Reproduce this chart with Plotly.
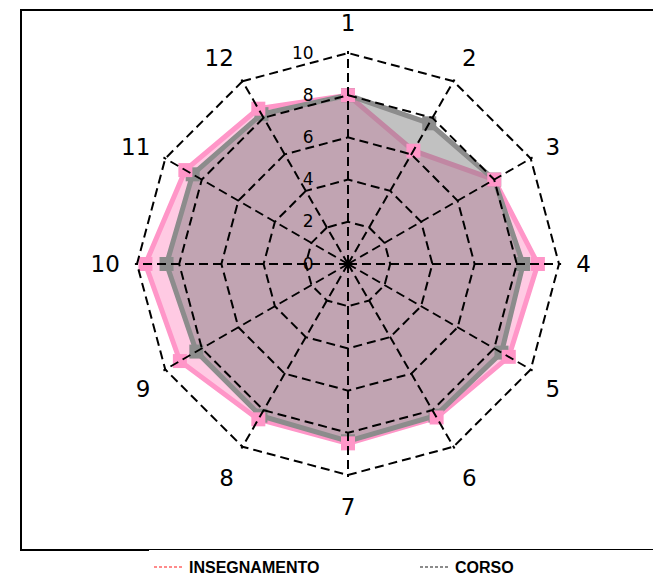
import plotly.graph_objects as go

categories = ["1", "2", "3", "4", "5", "6", "7", "8", "9", "10", "11", "12"]
insegnamento = [8.0, 6.2, 8.0, 9.0, 8.8, 8.4, 8.5, 8.5, 9.2, 9.6, 8.9, 8.5]
corso = [8.0, 7.7, 8.0, 8.3, 8.4, 8.3, 8.4, 8.3, 8.3, 8.6, 8.5, 8.2]
radial_ticks = [0, 2, 4, 6, 8, 10]

PINK = "#FF96C8"
GRAY = "#8C8C8C"
RMAX = 10.1

def closed(v):
    return v + v[:1]

theta = closed(categories)

fig = go.Figure()
fig.add_trace(go.Scatterpolar(
    r=closed(insegnamento), theta=theta, mode="lines", fill="toself",
    fillcolor="rgba(255,150,200,0.5)", line=dict(color=PINK, width=5),
    showlegend=False, hoverinfo="skip"))
fig.add_trace(go.Scatterpolar(
    r=closed(corso), theta=theta, mode="lines+markers", fill="toself",
    fillcolor="rgba(118,118,118,0.45)", line=dict(color=GRAY, width=5),
    marker=dict(symbol="square", size=14, color=GRAY),
    showlegend=False, hoverinfo="skip"))
fig.add_trace(go.Scatterpolar(
    r=insegnamento, theta=categories, mode="markers",
    marker=dict(symbol="square", size=14, color=PINK),
    showlegend=False))
# overlay subplot that carries the grid on top of the fills
fig.add_trace(go.Scatterpolar(r=[None] * len(categories), theta=categories, mode="markers",
                              subplot="polar2", showlegend=False, hoverinfo="skip"))
# legend entries
fig.add_trace(go.Scatterpolar(r=[None], theta=[None], mode="lines", name="INSEGNAMENTO",
                              line=dict(color="#FF6666", width=1.5, dash="3px,2px")))
fig.add_trace(go.Scatterpolar(r=[None], theta=[None], mode="lines", name="CORSO",
                              line=dict(color="#666666", width=1.5, dash="3px,2px")))

W, H = 661, 576
OFF = 8  # page offset
ml, mr, mt, mb = 13, 0, 2, H - 542
pw, ph = W - ml - mr, H - mt - mb
cx, cy = 348 - OFF, 264 - OFF
R = 211 * RMAX / 10
xd = [(cx - R - ml) / pw, (cx + R - ml) / pw]
yd = [(H - mb - (cy + R)) / ph, (H - mb - (cy - R)) / ph]

grid_common = dict(gridcolor="black", griddash="9px,5px", gridwidth=1.5)

polar_base = dict(
    domain=dict(x=xd, y=yd),
    bgcolor="rgba(0,0,0,0)",
    gridshape="linear",
)

leg_y = -(558 - OFF - 8 - (H - mb)) / ph

fig.update_layout(
    width=W, height=H,
    margin=dict(l=ml, r=mr, t=mt, b=mb, autoexpand=False),
    paper_bgcolor="white", plot_bgcolor="white",
    font=dict(family="DejaVu Sans", color="black"),
    polar=dict(
        **polar_base,
        radialaxis=dict(range=[0, RMAX], tickvals=radial_ticks, angle=90,
                        showline=False, showgrid=False, showticklabels=False, ticks=""),
        angularaxis=dict(direction="clockwise", rotation=90, showline=False,
                         showgrid=False, showticklabels=False, ticks="",
                         type="category", categoryorder="array", categoryarray=categories),
    ),
    polar2=dict(
        **polar_base,
        radialaxis=dict(
            range=[0, RMAX], tickvals=radial_ticks, angle=90, tickangle=90,
            showline=False, **grid_common,
            ticks="outside", ticklen=28, tickcolor="rgba(0,0,0,0)",
            tickfont=dict(size=17, color="black"), side="counterclockwise"),
        angularaxis=dict(
            direction="clockwise", rotation=90, showline=False, **grid_common,
            type="category", categoryorder="array", categoryarray=categories,
            ticks="outside", ticklen=10, tickwidth=1, tickcolor="white",
            tickfont=dict(size=23, color="black")),
    ),
    legend=dict(orientation="h", x=(149 - OFF - ml) / pw, xanchor="left", y=leg_y, yanchor="top",
                entrywidth=221,
                font=dict(family="Liberation Sans", size=16, color="black", weight="bold")),
    shapes=[dict(type="rect", xref="paper", yref="paper", x0=0, x1=1.05, y0=0, y1=1,
                 line=dict(color="black", width=2))],
)

fig.write_html("out.html")
